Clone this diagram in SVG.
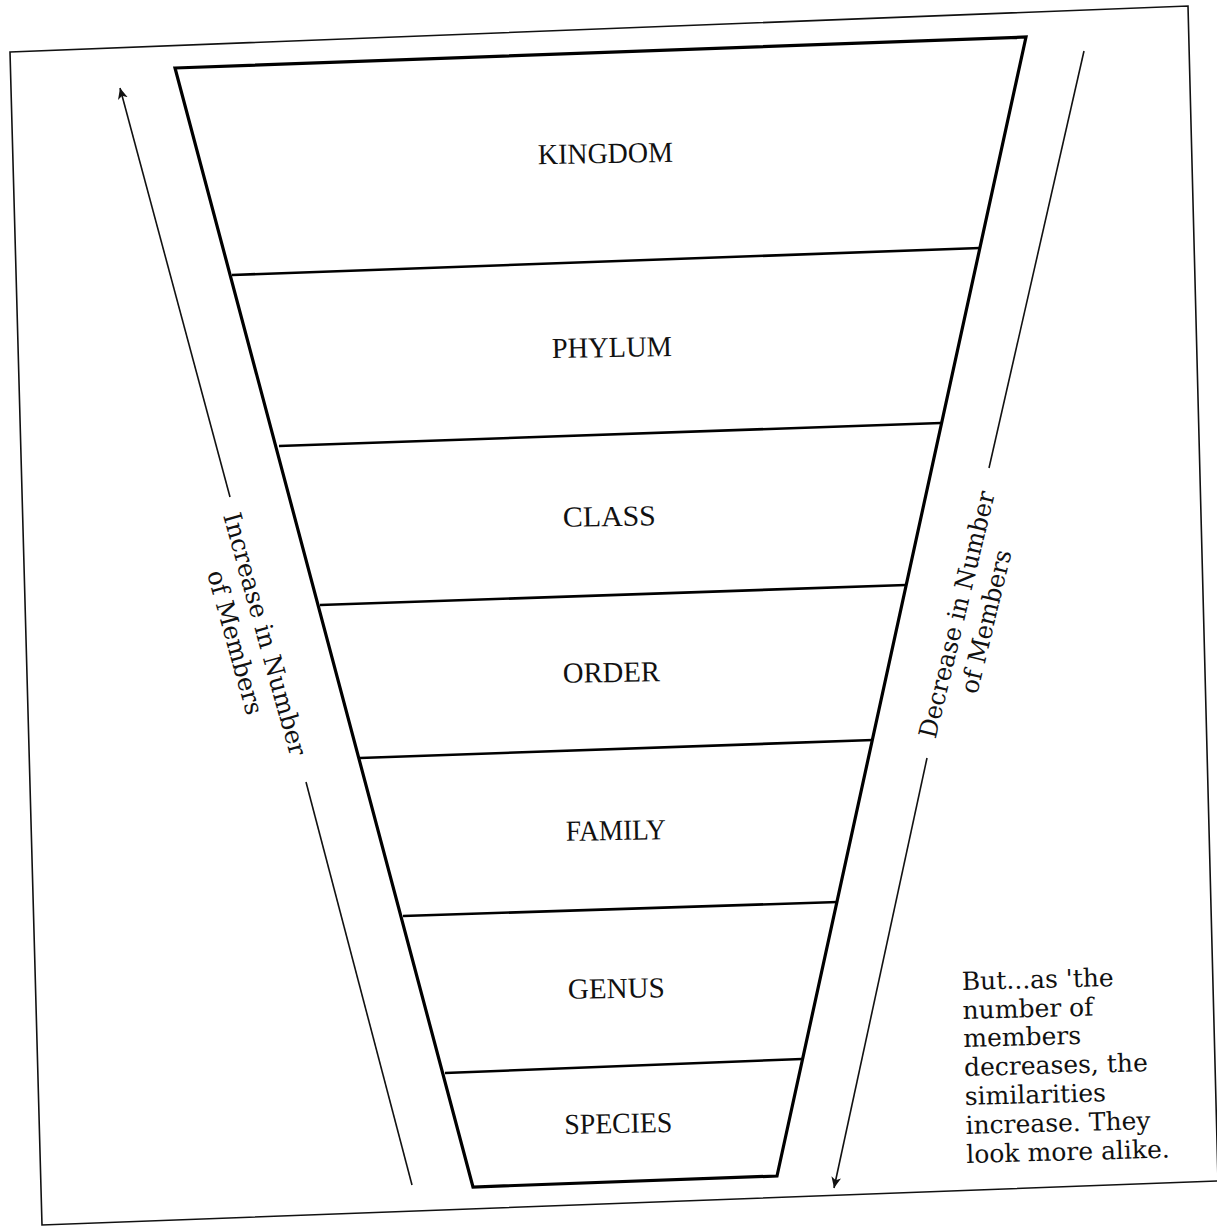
<svg xmlns="http://www.w3.org/2000/svg" width="1217" height="1226" viewBox="0 0 1217 1226">
<defs>
<style>
.frame{fill:none;stroke:#111;stroke-width:1.6}
.trap{fill:#fff;stroke:#000;stroke-width:3.2;stroke-linejoin:miter}
.div{stroke:#000;stroke-width:2.6}
.conn{stroke:#111;stroke-width:1.6;fill:none}
.lbl{font-family:"Liberation Serif","Times New Roman",serif;font-size:29px;fill:#111;text-anchor:middle}
.side{font-family:"DejaVu Serif","Liberation Serif",serif;font-size:25px;fill:#111;text-anchor:middle}
.note{font-family:"DejaVu Serif","Liberation Serif",serif;font-size:25px;fill:#111}
</style>
<marker id="ah" markerWidth="12" markerHeight="12" refX="11" refY="5" orient="auto" markerUnits="userSpaceOnUse">
<path d="M0,0 L11,5 L0,10 L3,5 Z" fill="#111"/>
</marker>
</defs>
<rect width="1217" height="1226" fill="#fff"/>
<polygon class="frame" points="10,52 1188,6 1218,1181 42,1225"/>
<g id="funnel">
<polygon class="trap" points="175,68 1026,37 777,1176 473,1187"/>
</g>
<g id="dividers">
<line class="div" x1="232" y1="275" x2="980" y2="248"/>
<line class="div" x1="279" y1="446" x2="941" y2="423"/>
<line class="div" x1="320" y1="605" x2="906" y2="585"/>
<line class="div" x1="360" y1="758" x2="873" y2="740"/>
<line class="div" x1="403" y1="916" x2="838" y2="902"/>
<line class="div" x1="445" y1="1073" x2="802" y2="1059"/>
</g>
<g id="kingdom"><text class="lbl" x="605.5" y="163" textLength="135" lengthAdjust="spacingAndGlyphs" transform="rotate(-1 605.5 163)">KINGDOM</text></g>
<g id="phylum"><text class="lbl" x="612" y="357" textLength="120" lengthAdjust="spacingAndGlyphs" transform="rotate(-1 612 357)">PHYLUM</text></g>
<g id="class"><text class="lbl" x="609.5" y="526" textLength="93" lengthAdjust="spacingAndGlyphs" transform="rotate(-1 609.5 526)">CLASS</text></g>
<g id="order"><text class="lbl" x="611.5" y="682" textLength="97" lengthAdjust="spacingAndGlyphs" transform="rotate(-1 611.5 682)">ORDER</text></g>
<g id="family"><text class="lbl" x="616" y="840" textLength="100" lengthAdjust="spacingAndGlyphs" transform="rotate(-1 616 840)">FAMILY</text></g>
<g id="genus"><text class="lbl" x="616.5" y="998" textLength="97" lengthAdjust="spacingAndGlyphs" transform="rotate(-1 616.5 998)">GENUS</text></g>
<g id="species"><text class="lbl" x="618.5" y="1133" textLength="108" lengthAdjust="spacingAndGlyphs" transform="rotate(-1 618.5 1133)">SPECIES</text></g>
<g id="connectors">
<line class="conn" x1="230" y1="497" x2="120" y2="88" marker-end="url(#ah)"/>
<line class="conn" x1="306" y1="782" x2="412" y2="1185"/>
<line class="conn" x1="1084" y1="51" x2="989" y2="468"/>
<line class="conn" x1="927" y1="758" x2="834" y2="1188" marker-end="url(#ah)"/>
</g>
<g id="increase-label" transform="translate(251 638) rotate(74.4)">
<text class="side" x="0" y="-6" textLength="251" lengthAdjust="spacingAndGlyphs">Increase in Number</text>
<text class="side" x="0" y="25" textLength="149" lengthAdjust="spacingAndGlyphs">of Members</text>
</g>
<g id="decrease-label" transform="translate(971 618) rotate(-76.4)">
<text class="side" x="0" y="-6" textLength="253" lengthAdjust="spacingAndGlyphs">Decrease in Number</text>
<text class="side" x="0" y="24" textLength="147" lengthAdjust="spacingAndGlyphs">of Members</text>
</g>
<g id="note" transform="rotate(-1.5 962 990)">
<text class="note" x="962" y="990">But...as 'the</text>
<text class="note" x="962" y="1019">number of</text>
<text class="note" x="962" y="1047">members</text>
<text class="note" x="962" y="1076">decreases, the</text>
<text class="note" x="962" y="1105">similarities</text>
<text class="note" x="962" y="1134">increase. They</text>
<text class="note" x="962" y="1163">look more alike.</text>
</g>
</svg>
